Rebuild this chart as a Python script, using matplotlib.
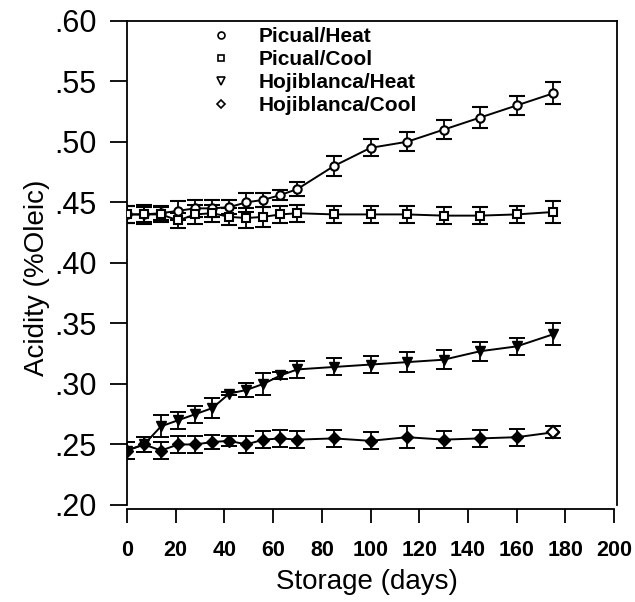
import matplotlib
matplotlib.use("Agg")
import matplotlib.pyplot as plt
from matplotlib.lines import Line2D

plt.rcParams['font.family'] = ['Liberation Sans', 'DejaVu Sans']

days = [0, 7, 14, 21, 28, 35, 42, 49, 56, 63, 70, 85, 100, 115, 130, 145, 160, 175]

picual_heat = [.440, .440, .441, .443, .445, .445, .446, .450, .452, .456, .461, .480, .495, .500, .510, .520, .530, .540]
picual_heat_err = [.007, .008, .006, .008, .007, .007, .006, .008, .006, .004, .006, .008, .007, .008, .008, .009, .008, .009]

picual_cool = [.440, .440, .440, .435, .440, .441, .438, .437, .438, .440, .441, .440, .440, .440, .439, .439, .440, .442]
picual_cool_err = [.007, .006, .006, .006, .008, .007, .007, .008, .008, .007, .007, .007, .007, .007, .007, .007, .007, .009]

hoji_heat = [.245, .250, .265, .270, .275, .280, .292, .295, .300, .307, .312, .314, .316, .318, .320, .327, .331, .341]
hoji_heat_err = [.007, .006, .009, .007, .007, .008, .001, .006, .009, .003, .007, .007, .007, .008, .008, .008, .007, .009]

hoji_cool = [.245, .250, .245, .250, .250, .252, .253, .250, .254, .255, .254, .255, .253, .256, .254, .255, .256, .260]
hoji_cool_err = [.007, .006, .007, .007, .007, .006, .004, .007, .007, .007, .007, .007, .007, .009, .007, .007, .007, .005]

series_names = ["Picual/Heat", "Picual/Cool", "Hojiblanca/Heat", "Hojiblanca/Cool"]

yticks = [.20, .25, .30, .35, .40, .45, .50, .55, .60]
ytick_labels = [".20", ".25", ".30", ".35", ".40", ".45", ".50", ".55", ".60"]
xticks = [0, 20, 40, 60, 80, 100, 120, 140, 160, 180, 200]

fig = plt.figure(figsize=(6.35, 6.02), dpi=100)
ax = fig.add_axes([127/635, 97/602, 490/635, 484.3/602])

common = dict(color='black', lw=1.4, capsize=6, elinewidth=1.3, capthick=1.4, zorder=3)
ax.errorbar(days, picual_heat, yerr=picual_heat_err, marker='o', ms=6, mfc='white', mec='black', mew=1.5, **common)
ax.errorbar(days, picual_cool, yerr=picual_cool_err, marker='s', ms=5.5, mfc='white', mec='black', mew=1.5, **common)
ax.errorbar(days, hoji_heat, yerr=hoji_heat_err, marker='v', ms=7.5, mfc='black', mec='black', **common)
ax.errorbar(days, hoji_cool, yerr=hoji_cool_err, marker='D', ms=6, mfc='black', mec='black', **common)
# last Hojiblanca/Cool point drawn open as in the reference
ax.plot(days[-1:], hoji_cool[-1:], marker='D', ms=6, mfc='white', mec='black', mew=1.5, ls='none', zorder=4)

ax.set_xlim(0, 201.2)
ax.set_ylim(0.20, 0.60)

ax.set_yticks(yticks)
ax.set_yticklabels(ytick_labels)
ax.set_xticks(xticks)

for s in ax.spines.values():
    s.set_linewidth(1.3)
ax.spines['bottom'].set_position(('outward', 3))
ax.spines['bottom'].set_bounds(0, 200)

ax.tick_params(axis='y', direction='out', length=12, width=1.3, pad=10, labelsize=22)
ax.tick_params(axis='x', direction='out', length=10, width=1.3, pad=12, labelsize=15.5)
for lab in ax.get_xticklabels():
    lab.set_fontweight('bold')

ax.set_xlabel("Storage (days)", fontsize=20)
ax.set_ylabel("Acidity (%Oleic)", fontsize=20)
ax.xaxis.set_label_coords(0.49, -0.132)
ax.yaxis.set_label_coords(-0.158, 0.47)

markers = ['o', 's', 'v', 'D']
sizes = [5, 4.5, 5.5, 4.5]
handles = [Line2D([], [], ls='none', marker=m, ms=sz, mfc='white', mec='black', mew=1.2)
           for m, sz in zip(markers, sizes)]
leg = ax.legend(handles, series_names, loc='upper left', bbox_to_anchor=(0.17, 0.987),
                frameon=False, borderpad=0, borderaxespad=0, handlelength=1.0,
                handletextpad=1.3, labelspacing=0.2, prop={'size': 15, 'weight': 'bold'})

fig.savefig("out.png", dpi=100)
